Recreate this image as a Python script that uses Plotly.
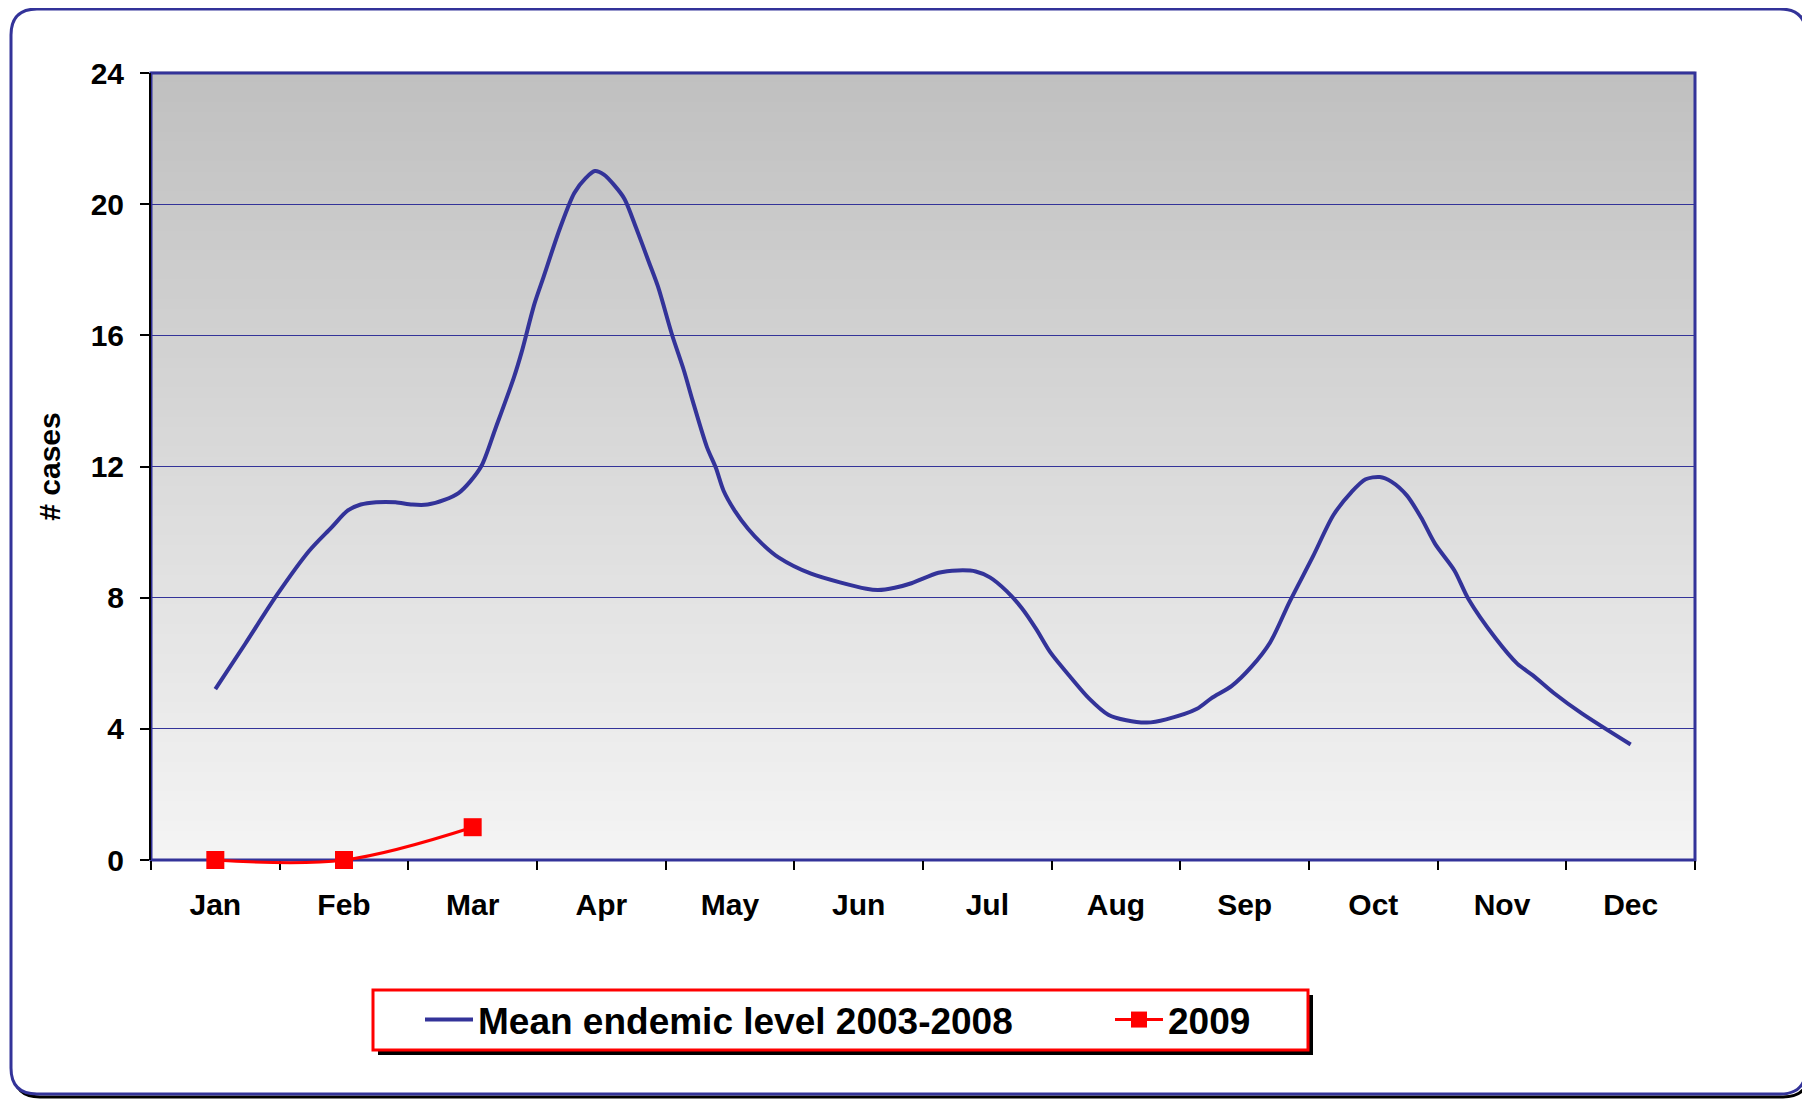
import plotly.graph_objects as go

# ---------------- data ----------------
months = ["Jan", "Feb", "Mar", "Apr", "May", "Jun", "Jul", "Aug", "Sep", "Oct", "Nov", "Dec"]

# Mean endemic level 2003-2008 (x in month units, 0 = Jan)
mean_x = [0.00, 0.23, 0.48, 0.73, 0.90, 1.03, 1.13, 1.25, 1.40, 1.53, 1.65, 1.78, 1.89, 1.98,
          2.07, 2.18, 2.32, 2.38, 2.48, 2.55, 2.68, 2.79, 2.88, 2.95, 3.02, 3.10, 3.18, 3.27,
          3.37, 3.44, 3.55, 3.64, 3.71, 3.82, 3.89, 3.95, 4.04, 4.14, 4.25, 4.38, 4.63, 5.06,
          5.15, 5.28, 5.41, 5.62, 5.77, 5.91, 6.02, 6.15, 6.27, 6.38, 6.49, 6.65, 6.79, 6.94,
          7.08, 7.24, 7.39, 7.63, 7.74, 7.90, 8.05, 8.20, 8.35, 8.53, 8.69, 8.83, 8.94, 9.05,
          9.14, 9.26, 9.37, 9.48, 9.63, 9.74, 9.95, 10.12, 10.24, 10.40, 10.62, 11.00]
mean_y = [5.21, 6.58, 8.09, 9.43, 10.13, 10.66, 10.84, 10.91, 10.91, 10.84, 10.84, 10.98, 11.19, 11.54,
          12.03, 13.19, 14.71, 15.48, 16.96, 17.77, 19.28, 20.34, 20.80, 21.01, 20.90, 20.58, 20.16, 19.28,
          18.23, 17.49, 16.01, 14.95, 14.00, 12.60, 11.96, 11.26, 10.63, 10.10, 9.64, 9.22, 8.73, 8.27,
          8.23, 8.30, 8.44, 8.76, 8.83, 8.80, 8.62, 8.20, 7.67, 7.04, 6.33, 5.56, 4.93, 4.43,
          4.26, 4.19, 4.29, 4.61, 4.93, 5.31, 5.88, 6.65, 7.88, 9.25, 10.52, 11.22, 11.61, 11.68,
          11.54, 11.12, 10.45, 9.64, 8.83, 7.95, 6.76, 5.98, 5.63, 5.10, 4.47, 3.52]

# 2009 observed
y2009_x = [0, 1, 2]
y2009 = [0, 0, 1]

y_ticks = [0, 4, 8, 12, 16, 20, 24]

# ---------------- styling ----------------
NAVY = "#333399"
FONT = "Arial, Liberation Sans, sans-serif"
OFF = 8                      # default page margin of the html body
W, H = 1810 - OFF, 1099 - OFF
PLOT_L, PLOT_R, PLOT_T, PLOT_B = 151, 1695, 73, 860   # screen pixels of the plot area
EXTRA = 14                   # room below zero line so the 2009 line is not clipped
ML = PLOT_L - OFF
MR = W - (PLOT_R - OFF)
MT = PLOT_T - OFF
MB = H - (PLOT_B - OFF) - EXTRA
PW, PH = W - ML - MR, H - MT - MB
D0 = EXTRA / PH
YMAX = 24
Y2_LO = -YMAX * D0 / (1 - D0)


def px(x):
    return (x - OFF - ML) / PW


def py(y):
    return (H - MB - (y - OFF)) / PH


def rounded(x0p, y0p, x1p, y1p, r):
    # screen pixel box -> rounded-rect path in paper coordinates
    X0, X1 = px(x0p), px(x1p)
    Yt, Yb = py(y0p), py(y1p)
    rx, ry = r / PW, r / PH
    return (f"M{X0+rx},{Yt} L{X1-rx},{Yt} Q{X1},{Yt} {X1},{Yt-ry} "
            f"L{X1},{Yb+ry} Q{X1},{Yb} {X1-rx},{Yb} L{X0+rx},{Yb} "
            f"Q{X0},{Yb} {X0},{Yb+ry} L{X0},{Yt-ry} Q{X0},{Yt} {X0+rx},{Yt} Z")


fig = go.Figure()

fig.add_trace(go.Scatter(
    x=mean_x, y=mean_y, mode="lines", name="Mean endemic level 2003-2008",
    line=dict(color=NAVY, width=4, shape="spline", smoothing=0.8),
))
fig.add_trace(go.Scatter(
    x=y2009_x, y=y2009, mode="lines+markers", name="2009", cliponaxis=False,
    xaxis="x2", yaxis="y2",
    line=dict(color="#FF0000", width=3, shape="spline", smoothing=1),
    marker=dict(symbol="square", size=18, color="#FF0000"),
))

shapes = []
# outer chart frame with shadow
shapes.append(dict(type="path", xref="paper", yref="paper",
                   path=rounded(14, 12, 1809, 1097, 26), line=dict(color="black", width=3),
                   layer="below"))
shapes.append(dict(type="path", xref="paper", yref="paper",
                   path=rounded(11, 9, 1806, 1094, 26), fillcolor="white",
                   line=dict(color=NAVY, width=3), layer="below"))
# background gradient of plot area
n = 80
for i in range(n):
    t = i / (n - 1)
    v = round(244 - (244 - 192) * t)
    shapes.append(dict(type="rect", xref="x domain", yref="y domain",
                       x0=0, x1=1, y0=i / n, y1=(i + 1) / n + 0.002,
                       fillcolor=f"rgb({v},{v},{v})", line=dict(width=0), layer="below"))
# plot area border
shapes.append(dict(type="rect", xref="x domain", yref="y domain", x0=0, x1=1, y0=0, y1=1,
                   line=dict(color=NAVY, width=3), layer="below"))
# legend box with shadow
shapes.append(dict(type="rect", xref="paper", yref="paper",
                   x0=px(378), x1=px(1313), y0=py(1055), y1=py(995),
                   fillcolor="black", line=dict(width=0), layer="above"))
shapes.append(dict(type="rect", xref="paper", yref="paper",
                   x0=px(373), x1=px(1308), y0=py(1050), y1=py(990),
                   fillcolor="white", line=dict(color="#FF0000", width=3), layer="above"))

fig.update_layout(
    width=W, height=H,
    margin=dict(l=ML, r=MR, t=MT, b=MB, autoexpand=False),
    paper_bgcolor="white",
    plot_bgcolor="rgba(0,0,0,0)",
    font=dict(family=FONT, color="black", size=30, weight="bold"),
    showlegend=True,
    legend=dict(orientation="h", x=px(420), xanchor="left", y=py(989), yanchor="top",
                bgcolor="rgba(0,0,0,0)", borderwidth=0,
                font=dict(size=37, family=FONT, weight="bold"),
                entrywidth=627, itemwidth=48, tracegroupgap=0),
    shapes=shapes,
    xaxis=dict(
        domain=[0, 1], range=[-0.5, 11.5], tickmode="array", tickvals=list(range(12)),
        ticktext=months, ticks="", showgrid=False, zeroline=False, showline=False,
        tickfont=dict(size=30, family=FONT, weight="bold"), ticklabelstandoff=24,
        minor=dict(tickmode="linear", tick0=-0.5, dtick=1, ticks="outside", ticklen=9,
                   tickcolor="black", tickwidth=2, showgrid=False),
    ),
    yaxis=dict(
        domain=[D0, 1], range=[0, YMAX], tickmode="array", tickvals=y_ticks, ticks="outside",
        ticklen=9, tickcolor="black", tickwidth=2, showline=True, linecolor="black",
        linewidth=2, showgrid=True, gridcolor=NAVY, gridwidth=1.3, zeroline=False,
        tickfont=dict(size=30, family=FONT, weight="bold"), ticklabelstandoff=10,
        title=dict(text="# cases", font=dict(size=30, family=FONT, weight="bold"), standoff=21),
    ),
    xaxis2=dict(domain=[0, 1], range=[-0.5, 11.5], anchor="y2", visible=False),
    yaxis2=dict(domain=[0, 1], range=[Y2_LO, YMAX], anchor="x2", visible=False),
)

fig.write_html("out.html")
